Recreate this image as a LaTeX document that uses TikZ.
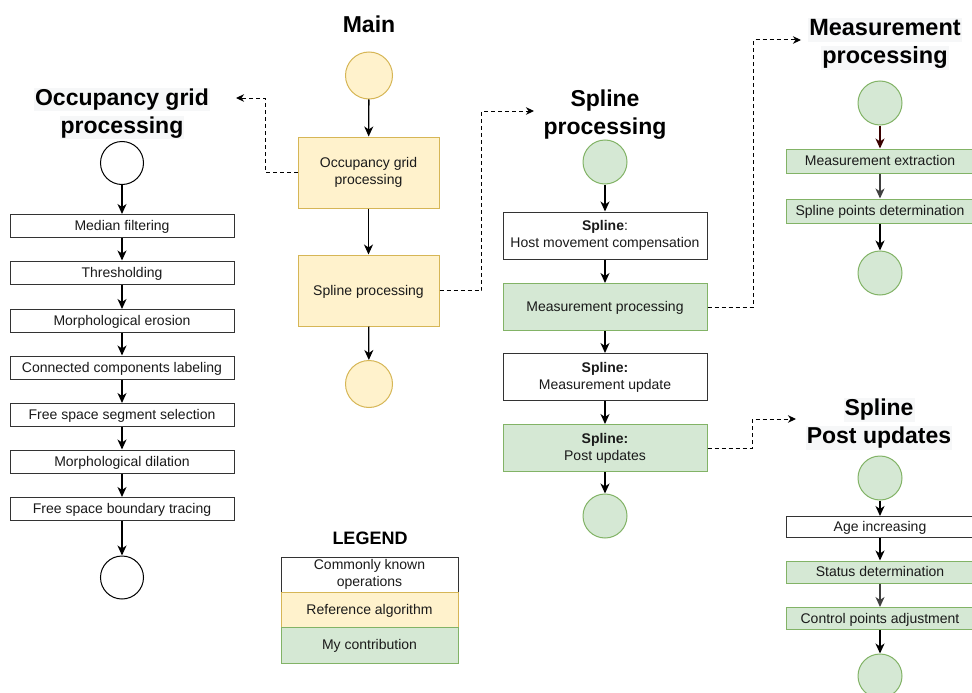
\documentclass[tikz,border=0pt]{standalone}
\usepackage{fontspec}
\setmainfont{Liberation Sans}
\usetikzlibrary{arrows.meta}

\definecolor{refFill}{HTML}{FFF2CC}
\definecolor{refDraw}{HTML}{D6B656}
\definecolor{myFill}{HTML}{D5E8D4}
\definecolor{myDraw}{HTML}{82B366}
\definecolor{titlebg}{HTML}{F6F7F8}
\definecolor{txt}{HTML}{1A1A1A}
\definecolor{darkred}{HTML}{3A0000}

% light band behind a heading line
\newcommand\hlline[1]{{\setlength\fboxsep{1pt}\colorbox{titlebg}{\vphantom{Mgp}#1}}}
% line-box strut (font ascent / descent) so text sits like a browser line
\newcommand\lnstrut{\rule[-0.212em]{0pt}{1.117em}}

\tikzset{
  base/.style={draw, line width=1pt, align=center, inner sep=1pt,
    font=\fontsize{14}{17}\selectfont, text=txt,
    execute at begin node=\lnstrut, execute at end node=\lnstrut},
  plain/.style={base, draw=black!80, fill=white},
  ref/.style={base, draw=refDraw, fill=refFill},
  mine/.style={base, draw=myDraw, fill=myFill},
  term/.style={circle, inner sep=0pt, minimum size=44pt, line width=1pt},
  refterm/.style={term, draw=refDraw, fill=refFill},
  myterm/.style={term, draw=myDraw, fill=myFill},
  plainterm/.style={term, draw=black, fill=white},
  heading/.style={font=\fontsize{23}{28}\selectfont\bfseries, align=center, text=black},
  flow/.style={line width=1.3pt, -{Stealth[length=10pt,width=9pt,inset=3pt]}},
  link/.style={line width=1pt, dash pattern=on 4pt off 3pt,
    -{Stealth[length=8pt,width=7.5pt,inset=2.5pt]}},
}

\begin{document}
\begin{tikzpicture}[x=1pt, y=-1pt]
\useasboundingbox (0,0) rectangle (972,693);

% ---------------- Main ----------------
\node[heading] (tMain) at (369,24) {Main};
\node[refterm, minimum size=47pt] (mStart) at (369,75.5) {};
\node[ref, minimum width=141pt, minimum height=71pt] (og) at (368.5,172.5)
  {Occupancy grid\\processing};
\node[ref, minimum width=141pt, minimum height=71pt] (sp) at (368.5,290.5)
  {Spline processing};
\node[refterm, minimum size=47pt] (mEnd) at (369,384) {};
\draw[flow] (mStart) -- (og);
\draw[flow] (og) -- (sp);
\draw[flow] (sp) -- (mEnd);

% ---------------- Occupancy grid processing ----------------
\node[heading] (tOg) at (122,113.5)
  {\hlline{Occupancy grid}\\\hlline{processing}};
\node[plainterm, minimum size=43pt] (oStart) at (122,163) {};
\tikzset{obox/.style={plain, minimum width=224pt, minimum height=23pt}}
\node[obox] (o1) at (122,226)   {Median filtering};
\node[obox] (o2) at (122,272.5) {Thresholding};
\node[obox] (o3) at (122,321)   {Morphological erosion};
\node[obox] (o4) at (122,367.5) {Connected components labeling};
\node[obox] (o5) at (122,415)   {Free space segment selection};
\node[obox] (o6) at (122,461.5) {Morphological dilation};
\node[obox] (o7) at (122,509)   {Free space boundary tracing};
\node[plainterm, minimum size=43pt] (oEnd) at (122,577.5) {};
\draw[flow] (oStart) -- (o1);
\draw[flow] (o1) -- (o2);
\draw[flow] (o2) -- (o3);
\draw[flow] (o3) -- (o4);
\draw[flow] (o4) -- (o5);
\draw[flow] (o5) -- (o6);
\draw[flow] (o6) -- (o7);
\draw[flow] (o7) -- (oEnd);

% ---------------- Spline processing ----------------
\node[heading] (tSp) at (605,114.5) {Spline\\processing};
\node[myterm] (sStart) at (605,162) {};
\tikzset{sbox/.style={minimum width=204pt, minimum height=47pt}}
\node[plain, sbox] (s1) at (605,235.5) {\textbf{Spline}:\\Host movement compensation};
\node[mine, sbox]  (s2) at (605,307)   {Measurement processing};
\node[plain, sbox] (s3) at (605,377)   {\textbf{Spline:}\\Measurement update};
\node[mine, sbox]  (s4) at (605,448)   {\textbf{Spline:}\\Post updates};
\node[myterm] (sEnd) at (605,516) {};
\draw[flow] (sStart) -- (s1);
\draw[flow] (s1) -- (s2);
\draw[flow] (s2) -- (s3);
\draw[flow] (s3) -- (s4);
\draw[flow] (s4) -- (sEnd);

% ---------------- Measurement processing ----------------
\node[heading, font=\fontsize{23.5}{28}\selectfont\bfseries] (tMp) at (885,44)
  {\hlline{Measurement}\\\hlline{processing}};
\node[myterm] (mpStart) at (880,103) {};
\tikzset{rbox/.style={minimum width=188pt, minimum height=24pt}}
\node[mine, rbox] (mp1) at (880,161) {Measurement extraction};
\node[mine, rbox] (mp2) at (880,211) {Spline points determination};
\node[myterm] (mpEnd) at (880,273) {};
\draw[flow, darkred] (mpStart) -- (mp1);
\draw[flow, black!75] (mp1) -- (mp2);
\draw[flow] (mp2) -- (mpEnd);

% ---------------- Spline post updates ----------------
\node[heading] (tPu) at (879,424)
  {\hlline{Spline}\\\hlline{Post updates}};
\node[myterm] (puStart) at (880,478) {};
\node[plain, rbox, minimum height=21pt] (pu1) at (880,527)   {Age increasing};
\node[mine, rbox, minimum height=22pt]  (pu2) at (880,572)   {Status determination};
\node[mine, rbox, minimum height=22pt]  (pu3) at (880,618.5) {Control points adjustment};
\node[myterm] (puEnd) at (880,676) {};
\draw[flow] (puStart) -- (pu1);
\draw[flow] (pu1) -- (pu2);
\draw[flow, black!75] (pu2) -- (pu3);
\draw[flow] (pu3) -- (puEnd);

% ---------------- dashed cross references ----------------
\coordinate (ogIn) at (236,98);
\coordinate (spIn) at (534,111);
\coordinate (mpIn) at (801,40);
\coordinate (puIn) at (796,419);
\draw[link] (og.west) -- ++(-32,0) |- (ogIn);
\draw[link] (sp.east) -- ++(42,0) |- (spIn);
\draw[link] (s2.east) -- ++(46,0) |- (mpIn);
\draw[link] (s4.east) -- ++(45,0) |- (puIn);

% ---------------- Legend ----------------
\node[heading, font=\fontsize{18}{22}\selectfont\bfseries] (tLeg) at (370,538) {LEGEND};
\tikzset{lbox/.style={minimum width=177pt}}
\node[plain, lbox, minimum height=35pt] (l1) at (369.5,574.5) {Commonly known\\operations};
\node[ref, lbox, minimum height=35pt]   (l2) at (369.5,609.5) {Reference algorithm};
\node[mine, lbox, minimum height=36pt]  (l3) at (369.5,645)   {My contribution};
\end{tikzpicture}
\end{document}
